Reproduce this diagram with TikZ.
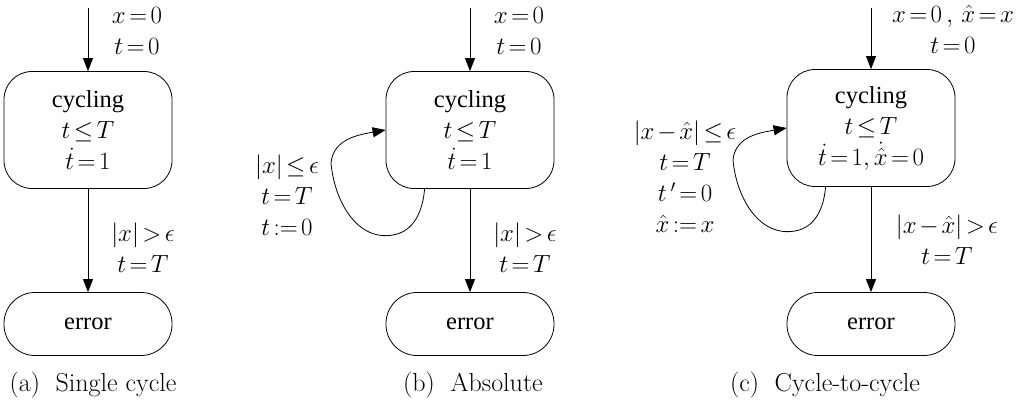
\documentclass[tikz,border=0pt]{standalone}
\usepackage{fontspec}
\usetikzlibrary{arrows.meta,calc,positioning}
\newfontfamily\tms{Liberation Serif}
\newcommand\tightmath{\thickmuskip=2.5mu\medmuskip=2mu}

\begin{document}
\begin{tikzpicture}[x=1pt,y=-1pt,>={Triangle[length=13pt,width=10pt]},line join=round]
\path[fill=white] (0,0) rectangle (1020,406);
\tikzset{state/.style={draw,line width=0.8pt,rounded corners=28pt,minimum width=168pt,minimum height=117pt,align=center,font=\tms\fontsize{24.5}{31}\selectfont\tightmath},
  errstate/.style={draw,line width=0.8pt,rounded corners=31pt,minimum width=168pt,minimum height=63pt,font=\tms\fontsize{24.5}{31}\selectfont},
  edge/.style={draw,line width=0.8pt,->},
  lbl/.style={align=center,font=\fontsize{25}{31}\selectfont\tightmath},
  capt/.style={font=\fontsize{26}{30}\selectfont}}
% (a) single cycle
\node[state] (cycA) at (88,130) {cycling\\$t\le T$\\$\dot t=1$};
\node[errstate] (errA) at (88,324) {error};
\coordinate (initA) at (88,8);
\draw[edge] (initA) -- (cycA.north);
\draw[edge] (cycA.south) -- (errA.north);
\node[lbl] (ilA) at (137,31) {$x=0$\\$t=0$};
\node[lbl] (glA) at (143,248) {$\bigl|x\bigr|>\epsilon$\\$t=T$};
\node[capt] (capA) at (93,385) {(a)~ Single cycle};
% (b) absolute
\node[state] (cycB) at (470,130) {cycling\\$t\le T$\\$\dot t=1$};
\node[errstate] (errB) at (470,324) {error};
\coordinate (initB) at (470,8);
\draw[edge] (initB) -- (cycB.north);
\draw[edge] (cycB.south) -- (errB.north);
\draw[edge] ($(cycB.south west)+(39,0)$) to[out=-95,in=10] (393,235) to[out=190,in=-85] (331,163) to[out=85,in=190] (cycB.west);
\node[lbl] (ilB) at (519,31) {$x=0$\\$t=0$};
\node[lbl] (glB) at (525,248) {$\bigl|x\bigr|>\epsilon$\\$t=T$};
\node[lbl] (lpB) at (287,195) {$\bigl|x\bigr|\le\epsilon$\\$t=T$\\$t:=0$};
\node[capt] (capB) at (473,385) {(b)~ Absolute};
% (c) cycle-to-cycle
\node[state] (cycC) at (871,128) {cycling\\$t\le T$\\$\dot t=1,\dot{\hat x}=0$};
\node[errstate] (errC) at (871,324) {error};
\coordinate (initC) at (871,8);
\draw[edge] (initC) -- (cycC.north);
\draw[edge] (cycC.south) -- (errC.north);
\draw[edge] ($(cycC.south west)+(39,0)$) to[out=-95,in=10] (795,231) to[out=190,in=-85] (733,160) to[out=85,in=190] (cycC.west);
\node[lbl] (ilC) at (953,29) {$x=0\,,\,\hat x=x$\\$t=0$};
\node[lbl] (glC) at (947,240) {$\bigl|x-\hat x\bigr|>\epsilon$\\$t=T$};
\node[lbl] (lpC) at (685,177) {$\bigl|x-\hat x\bigr|\le\epsilon$\\$t=T$\\$t\,'=0$\\$\hat x:=x$};
\node[capt] (capC) at (825,385) {(c)~ Cycle-to-cycle};
\end{tikzpicture}
\end{document}
